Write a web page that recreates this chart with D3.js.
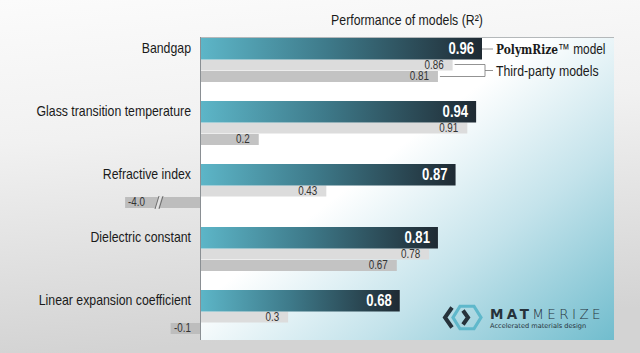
<!DOCTYPE html>
<html>
<head>
<meta charset="utf-8">
<script src="https://cdn.jsdelivr.net/npm/d3@7"></script>
<style>
  html, body { margin: 0; padding: 0; }
  body { width: 640px; height: 353px; overflow: hidden; }
  text { font-family: "Liberation Sans Narrow", "Arial Narrow", "Liberation Sans", sans-serif; }
</style>
</head>
<body>
<div id="chart"></div>
<script>
const categories = ["Bandgap", "Glass transition temperature", "Refractive index", "Dielectric constant", "Linear expansion coefficient"];
const polymrize = [0.96, 0.94, 0.87, 0.81, 0.68];
const thirdPartyA = [0.86, 0.91, 0.43, 0.78, 0.3];
const thirdPartyB = [0.81, 0.2, -4.0, 0.67, -0.1];

const width = 640, height = 353;
const unit = 293.75;          // px per 1.0 of R2
const axisX = 200;
const breakAt = -0.255;       // values below this get cut with a break mark

// no narrow font installed, so squeeze the regular one
function narrow(sel, k = 0.82) {
    sel.each(function () {
        const len = this.getComputedTextLength();
        d3.select(this).attr("textLength", len * k).attr("lengthAdjust", "spacingAndGlyphs");
    });
}

const svg = d3.select("#chart")
    .append("svg")
    .attr("width", width)
    .attr("height", height);

const defs = svg.append("defs");

let bg = defs.append("linearGradient").attr("id", "bg")
    .attr("x1", 0).attr("y1", 0).attr("x2", 0.15).attr("y2", 1);
bg.append("stop").attr("offset", "0%").attr("stop-color", "#fbfbfb");
bg.append("stop").attr("offset", "40%").attr("stop-color", "#f1f1f1");
bg.append("stop").attr("offset", "100%").attr("stop-color", "#d3d3d3");

let panel = defs.append("linearGradient").attr("id", "panel")
    .attr("gradientUnits", "userSpaceOnUse")
    .attr("x1", 440).attr("y1", 115).attr("x2", 620).attr("y2", 345);
panel.append("stop").attr("offset", "0%").attr("stop-color", "#ffffff");
panel.append("stop").attr("offset", "45%").attr("stop-color", "#c4e3eb");
panel.append("stop").attr("offset", "100%").attr("stop-color", "#6dbbcc");

let barGrad = defs.append("linearGradient").attr("id", "barGrad")
    .attr("x1", 0).attr("y1", 0).attr("x2", 1).attr("y2", 0);
barGrad.append("stop").attr("offset", "0%").attr("stop-color", "#5db6c8");
barGrad.append("stop").attr("offset", "45%").attr("stop-color", "#3e7a8a");
barGrad.append("stop").attr("offset", "100%").attr("stop-color", "#1f2a33");

svg.append("rect").attr("width", width).attr("height", height).attr("fill", "url(#bg)");

const x = d3.scaleLinear()
    .domain([breakAt, 1.4])
    .range([axisX + breakAt * unit, axisX + 1.4 * unit])
    .clamp(true);

const y = d3.scaleBand()
    .domain(categories)
    .range([38, 38 + categories.length * 63]);

// panel
svg.append("rect")
    .attr("x", axisX).attr("y", 37)
    .attr("width", 414).attr("height", 303)
    .attr("fill", "url(#panel)");
svg.append("line")
    .attr("x1", axisX).attr("x2", 614).attr("y1", 37.5).attr("y2", 37.5)
    .attr("stroke", "#b4b8ba").attr("stroke-width", 1);

// title
svg.append("text")
    .attr("x", 407).attr("y", 25)
    .attr("text-anchor", "middle")
    .style("font-size", "15px").style("fill", "#1a1a1a")
    .text("Performance of models (R\u00b2)")
    .call(narrow);

// category labels
svg.selectAll(".cat")
    .data(categories)
    .enter()
    .append("text")
    .attr("class", "cat")
    .attr("x", 191)
    .attr("y", d => y(d) + 15)
    .attr("text-anchor", "end")
    .style("font-size", "15px").style("fill", "#1a1a1a")
    .text(d => d)
    .call(narrow);

// third-party bars
const series = [
    { values: thirdPartyA, top: 21.5, h: 11, fill: "#dcdcdc" },
    { values: thirdPartyB, top: 33, h: 11, fill: "#c3c3c3" }
];

const fmt = v => v === Math.round(v * 10) / 10 ? v.toFixed(1) : v.toFixed(2);

series.forEach(s => {
    const rows = categories.map((c, i) => ({ cat: c, v: s.values[i] }));

    svg.selectAll(null)
        .data(rows)
        .enter()
        .append("rect")
        .attr("x", d => x(Math.min(0, d.v)))
        .attr("y", d => y(d.cat) + s.top)
        .attr("width", d => Math.abs(x(d.v) - x(0)))
        .attr("height", s.h)
        .attr("fill", d => d.v < 0 ? "#bdbdbd" : s.fill);

    svg.selectAll(null)
        .data(rows)
        .enter()
        .append("text")
        .attr("x", d => d.v < breakAt ? x(d.v) + 3 : (d.v < 0 ? x(0) - 9 : x(d.v) - 9))
        .attr("y", d => y(d.cat) + s.top + 9)
        .attr("text-anchor", d => d.v < breakAt ? "start" : "end")
        .style("font-size", "12px").style("fill", "#333")
        .text(d => fmt(d.v))
        .call(narrow);

    // break mark for cut bars
    rows.filter(d => d.v < breakAt).forEach(d => {
        const by = y(d.cat) + s.top;
        const bx = 158;
        svg.append("path")
            .attr("d", `M${bx - 3},${by + s.h + 1} L${bx + 1},${by - 1} L${bx + 4},${by - 1} L${bx},${by + s.h + 1} Z`)
            .attr("fill", "#e2e2e2");
        [bx - 3, bx + 1].forEach(lx => {
            svg.append("line")
                .attr("x1", lx).attr("y1", by + s.h + 1)
                .attr("x2", lx + 4).attr("y2", by - 1)
                .attr("stroke", "#555").attr("stroke-width", 0.8);
        });
    });
});

// PolymRize bars
svg.selectAll(".main")
    .data(categories)
    .enter()
    .append("rect")
    .attr("class", "main")
    .attr("x", x(0))
    .attr("y", d => y(d))
    .attr("width", (d, i) => x(polymrize[i]) - x(0))
    .attr("height", 21.5)
    .attr("fill", "url(#barGrad)");

svg.selectAll(".mainLabel")
    .data(categories)
    .enter()
    .append("text")
    .attr("class", "mainLabel")
    .attr("x", (d, i) => x(polymrize[i]) - 8)
    .attr("y", d => y(d) + 16)
    .attr("text-anchor", "end")
    .style("font-size", "16px").style("font-weight", "bold").style("fill", "#fff")
    .text((d, i) => polymrize[i].toFixed(2))
    .call(narrow);

// axis
svg.append("line")
    .attr("x1", axisX + 0.5).attr("x2", axisX + 0.5)
    .attr("y1", 37).attr("y2", 340)
    .attr("stroke", "#8a8f93").attr("stroke-width", 1);

// legend
const c0 = categories[0];
const legendX = x(polymrize[0]) + 3;
const legend = svg.append("g").attr("stroke", "#777").attr("stroke-width", 0.8).attr("fill", "none");
legend.append("line")
    .attr("x1", x(polymrize[0])).attr("x2", legendX + 8)
    .attr("y1", y(c0) + 11).attr("y2", y(c0) + 11);
legend.append("path")
    .attr("d", `M${x(thirdPartyA[0]) + 2},${y(c0) + 26.5} H${legendX} V${y(c0) + 38.5} H${x(thirdPartyB[0]) + 2}`);
legend.append("line")
    .attr("x1", legendX).attr("x2", legendX + 8)
    .attr("y1", y(c0) + 32.5).attr("y2", y(c0) + 32.5);

let lg1 = svg.append("g")
    .attr("transform", `translate(${legendX + 11},${y(c0) + 16}) scale(0.79,1)`)
    .append("text")
    .style("font-size", "15px").style("fill", "#1a1a1a");
lg1.append("tspan")
    .style("font-family", "'DejaVu Serif', 'Liberation Serif', serif")
    .style("font-weight", "bold").style("font-size", "13.5px")
    .text("PolymRize");
lg1.append("tspan").text("\u2122 model");

svg.append("text")
    .attr("x", legendX + 11).attr("y", y(c0) + 37.5)
    .style("font-size", "15px").style("fill", "#1a1a1a")
    .text("Third-party models")
    .call(narrow);

// logo
const logo = svg.append("g").attr("transform", "translate(467,317.5)");
logo.append("path")
    .attr("d", d3.range(6).map(k => {
        const a = Math.PI / 3 * k;
        return (k ? "L" : "M") + (14 * Math.cos(a)).toFixed(2) + "," + (13 * Math.sin(a)).toFixed(2);
    }).join("") + "Z")
    .attr("fill", "none").attr("stroke", "#5fb8cb").attr("stroke-width", 3.2);
logo.append("path")
    .attr("d", "M-15,-10 L-22,0 L-15,10")
    .attr("fill", "none").attr("stroke", "#26323b").attr("stroke-width", 4).attr("stroke-linejoin", "miter");
logo.append("path")
    .attr("d", "M-4,-7 L1,0 L-4,7")
    .attr("fill", "none").attr("stroke", "#26323b").attr("stroke-width", 4).attr("stroke-linejoin", "miter");

let brand = svg.append("text")
    .attr("x", 490).attr("y", 318.5)
    .style("font-family", "'DejaVu Sans', sans-serif")
    .style("font-size", "13.5px").style("letter-spacing", "3.4px").style("fill", "#26323b");
brand.append("tspan").style("font-weight", "bold").text("MAT");
brand.append("tspan").style("font-weight", "200").style("font-family", "'DejaVu Sans ExtraLight', 'DejaVu Sans', sans-serif").text("MERIZE");

svg.append("text")
    .attr("x", 490).attr("y", 327.5)
    .style("font-family", "'DejaVu Sans', sans-serif")
    .style("font-size", "6.6px").style("fill", "#26323b")
    .text("Accelerated materials design");
</script>
</body>
</html>
